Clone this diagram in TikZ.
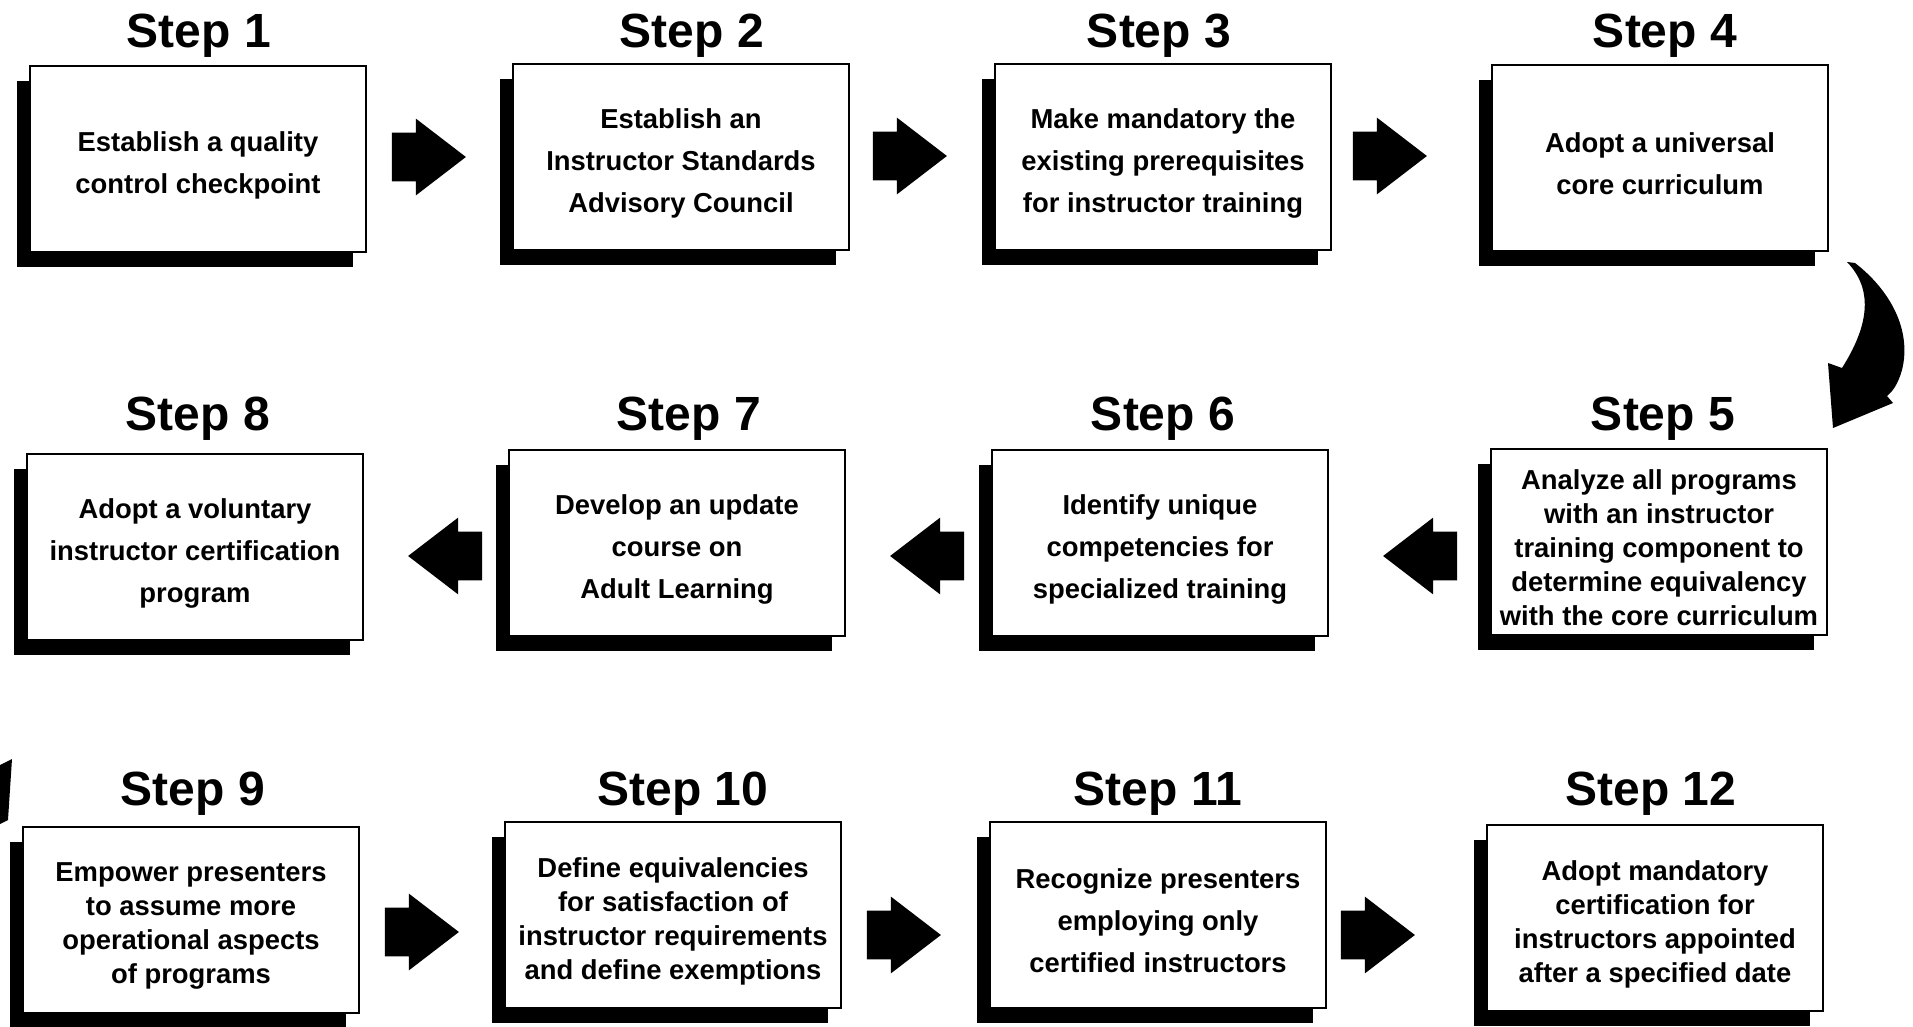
\documentclass[tikz,border=0pt]{standalone}
\usepackage{fontspec}
\setmainfont{Liberation Sans}
\usetikzlibrary{shapes.arrows,shadows}

\begin{document}
\begin{tikzpicture}[x=0.5pt, y=-0.5pt,
      etape/.style={draw=black, line width=1pt, fill=white, inner sep=0pt,
                    minimum width=168pt, minimum height=93pt,
                    drop shadow={shadow xshift=-6.5pt, shadow yshift=-7.5pt, fill=black, opacity=1}},
      texte/.style={align=center, inner sep=0pt, yshift=-3pt,
                    font=\bfseries\fontsize{13.7}{21}\selectfont},
      serre/.style={texte, font=\bfseries\fontsize{13.7}{17}\selectfont},
      titre/.style={font=\bfseries\fontsize{24}{28}\selectfont, anchor=base},
      fleche/.style={single arrow, fill=black, draw=none, inner sep=0pt,
                     text height=24pt, text depth=0pt, minimum height=37pt,
                     single arrow head extend=7pt, single arrow tip angle=75},
      droite/.style={fleche, xshift=-8pt},
      gauche/.style={fleche, shape border rotate=180, xshift=8pt}]
    \useasboundingbox (0,0) rectangle (1913,1027);
    % boites
    \node[etape] (b1)  at (198,159)  {};
    \node[etape] (b2)  at (681,157)  {};
    \node[etape] (b3)  at (1163,157) {};
    \node[etape] (b4)  at (1660,158) {};
    \node[etape] (b5)  at (1659,542) {};
    \node[etape] (b6)  at (1160,543) {};
    \node[etape] (b7)  at (677,543)  {};
    \node[etape] (b8)  at (195,547)  {};
    \node[etape] (b9)  at (191,920)  {};
    \node[etape] (b10) at (673,915)  {};
    \node[etape] (b11) at (1158,915) {};
    \node[etape] (b12) at (1655,918) {};
    % textes
    \node[texte] (c1)  at (b1)  {Establish a quality\\control checkpoint};
    \node[texte] (c2)  at (b2)  {Establish an\\Instructor Standards\\Advisory Council};
    \node[texte] (c3)  at (b3)  {Make mandatory the\\existing prerequisites\\for instructor training};
    \node[texte] (c4)  at (b4)  {Adopt a universal\\core curriculum};
    \node[serre] (c5)  at (b5)  {Analyze all programs\\with an instructor\\training component to\\determine equivalency\\with the core curriculum};
    \node[texte] (c6)  at (b6)  {Identify unique\\competencies for\\specialized training};
    \node[texte] (c7)  at (b7)  {Develop an update\\course on\\Adult Learning};
    \node[texte] (c8)  at (b8)  {Adopt a voluntary\\instructor certification\\program};
    \node[serre] (c9)  at (b9)  {Empower presenters\\to assume more\\operational aspects\\of programs};
    \node[serre] (c10) at (b10) {Define equivalencies\\for satisfaction of\\instructor requirements\\and define exemptions};
    \node[texte] (c11) at (b11) {Recognize presenters\\employing only\\certified instructors};
    \node[serre] (c12) at (b12) {Adopt mandatory\\certification for\\instructors appointed\\after a specified date};
    % titres
    \node[titre] (t1)  at (199,48)   {Step 1};
    \node[titre] (t2)  at (692,48)   {Step 2};
    \node[titre] (t3)  at (1159,48)  {Step 3};
    \node[titre] (t4)  at (1665,48)  {Step 4};
    \node[titre] (t5)  at (1663,430) {Step 5};
    \node[titre] (t6)  at (1163,430) {Step 6};
    \node[titre] (t7)  at (689,430)  {Step 7};
    \node[titre] (t8)  at (198,430)  {Step 8};
    \node[titre] (t9)  at (193,805)  {Step 9};
    \node[titre] (t10) at (683,805)  {Step 10};
    \node[titre] (t11) at (1158,805) {Step 11};
    \node[titre] (t12) at (1651,805) {Step 12};
    % fleches
    \node[droite] (f12)   at (429,157)  {};
    \node[droite] (f23)   at (910,156)  {};
    \node[droite] (f34)   at (1390,156) {};
    \node[gauche] (f56)   at (1420,556) {};
    \node[gauche] (f67)   at (927,556)  {};
    \node[gauche] (f78)   at (445,556)  {};
    \node[droite] (f910)  at (422,932)  {};
    \node[droite] (f1011) at (904,935)  {};
    \node[droite] (f1112) at (1378,935) {};
    % fleche courbe 4 -> 5
    \fill[black] (1847,262) -- (1855,263) .. controls (1890,290) and (1912,330) .. (1902,370)
      .. controls (1898,384) and (1893,391) .. (1887,396) -- (1893,403) -- (1833,428)
      -- (1828,363) -- (1842,368) .. controls (1866,330) and (1876,292) .. cycle;
    % reste de fleche au bord gauche
    \fill[black] (0,765) -- (12,759) .. controls (10,790) .. (8,820) -- (0,824) -- cycle;
  \end{tikzpicture}
\end{document}
